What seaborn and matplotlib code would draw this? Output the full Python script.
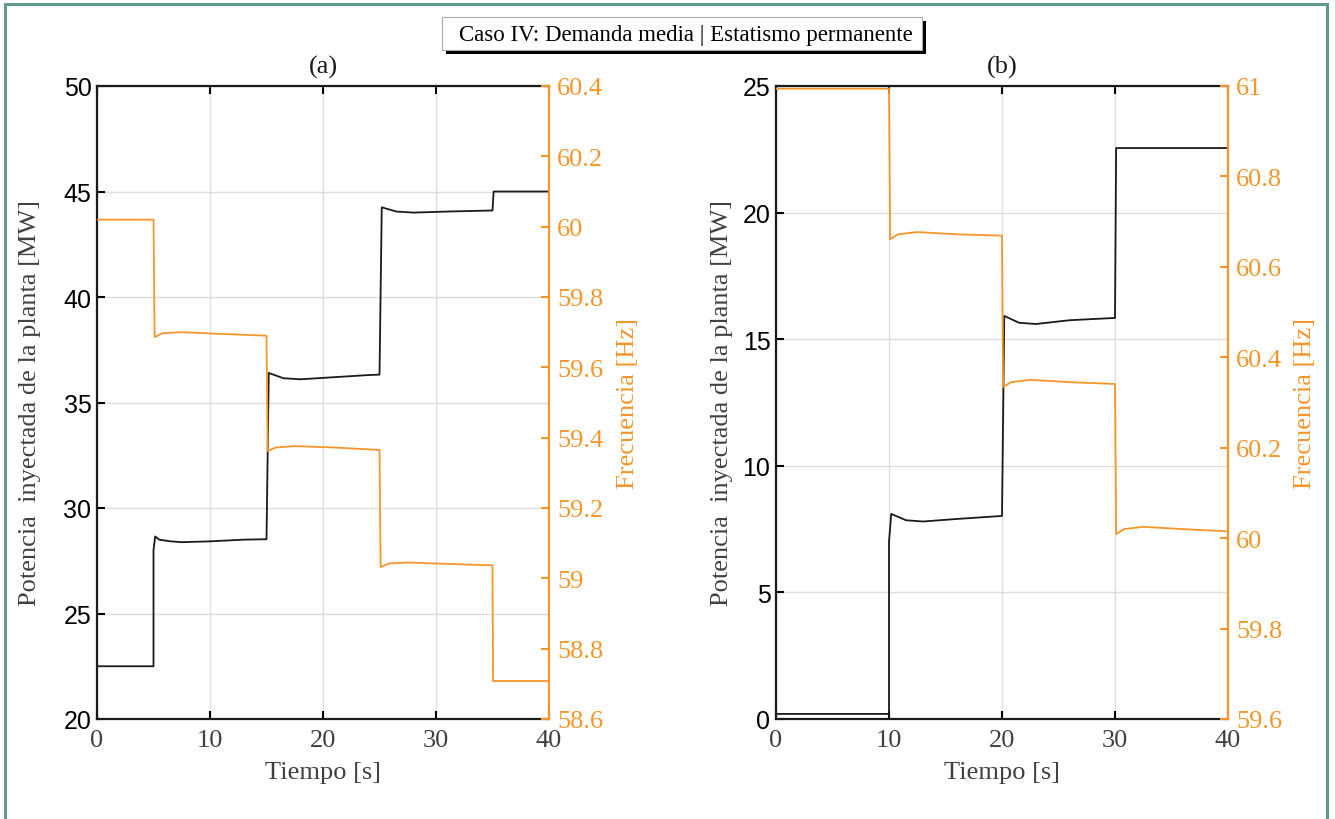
import matplotlib
matplotlib.use("Agg")
import matplotlib.pyplot as plt
import matplotlib.patches as patches
import seaborn as sns
import pandas as pd

# ---------------- data ----------------
# (a) power [MW]
ta_p = [0, 5, 5.0, 5.15, 5.5, 6.5, 7.5, 10, 13, 15,
        15, 15.2, 16.5, 18, 21, 24, 25,
        25, 25.2, 26.5, 28, 31, 35,
        35, 35.1, 40]
pa_p = [22.5, 22.5, 28.0, 28.65, 28.5, 28.42, 28.38, 28.42, 28.5, 28.52,
        28.52, 36.4, 36.15, 36.1, 36.2, 36.3, 36.32,
        36.32, 44.25, 44.05, 44.0, 44.05, 44.1,
        44.1, 45.0, 45.0]
# (a) frequency [Hz]
ta_f = [0, 5, 5.1, 5.8, 7.5, 11, 15,
        15.1, 15.8, 17.5, 21, 25,
        25.1, 25.8, 27.5, 31, 35,
        35.05, 40]
fa_f = [60.02, 60.02, 59.686, 59.697, 59.70, 59.695, 59.69,
        59.362, 59.372, 59.376, 59.372, 59.365,
        59.032, 59.042, 59.045, 59.041, 59.037,
        58.708, 58.708]
# (b) power [MW]
tb_p = [0, 10, 10.0, 10.2, 11.5, 13, 16, 20,
        20, 20.2, 21.5, 23, 26, 30,
        30, 30.1, 40]
pb_p = [0.2, 0.2, 7.0, 8.1, 7.85, 7.8, 7.9, 8.02,
        8.02, 15.92, 15.65, 15.6, 15.75, 15.84,
        15.84, 22.55, 22.55]
# (b) frequency [Hz]
tb_f = [0, 10, 10.1, 10.8, 12.5, 16, 20,
        20.1, 20.8, 22.5, 26, 30,
        30.1, 30.8, 32.5, 36, 40]
fb_f = [60.994, 60.994, 60.661, 60.672, 60.677, 60.672, 60.669,
        60.334, 60.345, 60.35, 60.345, 60.341,
        60.009, 60.02, 60.025, 60.02, 60.015]

xticks = [0, 10, 20, 30, 40]
ya_left = [20, 25, 30, 35, 40, 45, 50]
ya_right = [58.6, 58.8, 59.0, 59.2, 59.4, 59.6, 59.8, 60.0, 60.2, 60.4]
ya_right_lbl = ["58.6", "58.8", "59", "59.2", "59.4", "59.6", "59.8", "60", "60.2", "60.4"]
yb_left = [0, 5, 10, 15, 20, 25]
yb_right = [59.6, 59.8, 60.0, 60.2, 60.4, 60.6, 60.8, 61.0]
yb_right_lbl = ["59.6", "59.8", "60", "60.2", "60.4", "60.6", "60.8", "61"]

suptitle = "Caso IV: Demanda media | Estatismo permanente"
xlabel = "Tiempo [s]"
ylabel_l = "Potencia  inyectada de la planta [MW]"
ylabel_r = "Frecuencia [Hz]"

# ---------------- style ----------------
sns.set_theme(style="white")
plt.rcParams['font.family'] = ['Liberation Serif', 'DejaVu Serif']

ORANGE = "#F5962A"
BLACK = "#1a1a1a"
GRAY = "#404040"
GRID = "#dddddd"
TEAL = "#5E9A8F"

fig = plt.figure(figsize=(13.35, 8.2), dpi=100)
W, H = 1335, 820


def fx(px):
    return px / W


def fy(py):
    return 1 - py / H


# frame
fig.patches.append(patches.Rectangle((fx(5), -0.05), fx(1322), fy(5) + 0.05,
                                     transform=fig.transFigure, fill=False,
                                     edgecolor=TEAL, linewidth=2.2))
# title box with shadow
fig.patches.append(patches.Rectangle((fx(446), fy(55)), fx(480), 33 / H,
                                     transform=fig.transFigure, facecolor="black",
                                     edgecolor="none"))
fig.patches.append(patches.Rectangle((fx(442), fy(51)), fx(480), 33 / H,
                                     transform=fig.transFigure, facecolor="white",
                                     edgecolor="#aaaaaa", linewidth=0.8))
fig.text(fx(686), fy(35), suptitle, ha="center", va="center", fontsize=16.5,
         color="black")


def make_panel(left_px, title, tp, pp, tf, ff, yl, yl_lim, yr, yr_lbl, yr_lim):
    ax = fig.add_axes([fx(left_px), fy(720), fx(452), 633 / H])
    df_p = pd.DataFrame({"t": tp, "p": pp})
    sns.lineplot(data=df_p, x="t", y="p", ax=ax, estimator=None, sort=False,
                 color=BLACK, linewidth=1.3, zorder=3)
    ax.set_xlim(0, 40)
    ax.set_ylim(*yl_lim)
    ax.set_xticks(xticks)
    ax.set_yticks(yl)
    ax.grid(True, color=GRID, linewidth=1.0)
    ax.set_axisbelow(True)
    ax.set_yticklabels([str(v) for v in yl], family=['Liberation Sans', 'DejaVu Sans'],
                       fontsize=18, color="black")
    ax.set_xticklabels([str(v) for v in xticks], fontsize=19, color=GRAY)
    ax.tick_params(axis="both", direction="in", length=6, width=1.5,
                   color="black", top=True, bottom=True, left=True, right=False, pad=4)
    ax.tick_params(axis="x", pad=7)
    for s in ["left", "bottom", "top"]:
        ax.spines[s].set_color(BLACK)
        ax.spines[s].set_linewidth(1.6)
    ax.spines["right"].set_visible(False)
    ax.set_xlabel(xlabel, fontsize=19, color=GRAY)
    ax.set_ylabel(ylabel_l, fontsize=19, color=GRAY)
    ax.set_title(title, fontsize=19, color=BLACK, pad=10)

    ax2 = ax.twinx()
    df_f = pd.DataFrame({"t": tf, "f": ff})
    sns.lineplot(data=df_f, x="t", y="f", ax=ax2, estimator=None, sort=False,
                 color=ORANGE, linewidth=1.3, zorder=3)
    ax2.set_ylim(*yr_lim)
    ax2.set_yticks(yr)
    ax2.set_yticklabels(yr_lbl, fontsize=19, color=ORANGE)
    ax2.tick_params(axis="y", direction="in", length=6, width=1.5, color=ORANGE,
                    pad=6, right=True, left=False)
    ax2.grid(False)
    for s in ["left", "bottom", "top"]:
        ax2.spines[s].set_visible(False)
    ax2.spines["right"].set_color(ORANGE)
    ax2.spines["right"].set_linewidth(1.6)
    ax2.set_ylabel(ylabel_r, fontsize=19, color=ORANGE)
    ax2.set_xlabel("")
    return ax, ax2


axa, axa2 = make_panel(97, "(a)", ta_p, pa_p, ta_f, fa_f,
                       ya_left, (20, 50), ya_right, ya_right_lbl, (58.6, 60.4))
axb, axb2 = make_panel(776, "(b)", tb_p, pb_p, tb_f, fb_f,
                       yb_left, (0, 25), yb_right, yb_right_lbl, (59.6, 61.0))

axa.yaxis.set_label_coords((41 - 97) / 452, 0.5)
axa2.yaxis.set_label_coords((617 - 97) / 452, 0.5)
axb.yaxis.set_label_coords((733 - 776) / 452, 0.5)
axb2.yaxis.set_label_coords((1294 - 776) / 452, 0.5)
for a in (axa, axb):
    a.xaxis.set_label_coords(0.5, (720 - 762) / 633)

fig.savefig("out.png", dpi=100, facecolor="white")
